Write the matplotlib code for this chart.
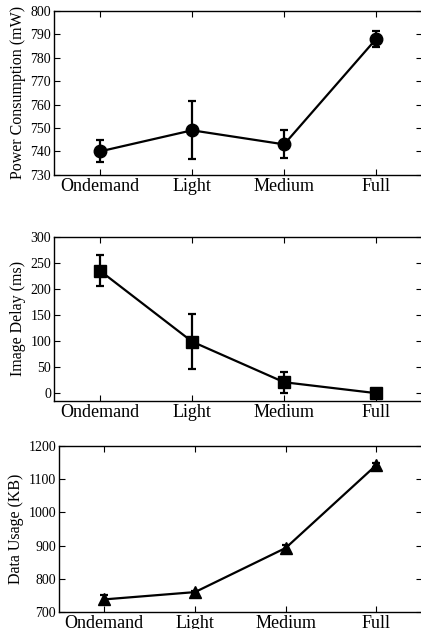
import matplotlib
matplotlib.use('Agg')
import matplotlib.pyplot as plt

modes = ['Ondemand', 'Light', 'Medium', 'Full']

power = [740, 749, 743, 788]
power_err = [4.7, 12.4, 6.0, 3.4]

delay = [235, 99, 21, 0]
delay_err = [30, 53, 20, 0]

data_usage = [738, 760, 893, 1143]
data_err = [14, 4, 10, 5]

plt.rcParams['font.family'] = ['Liberation Serif', 'DejaVu Serif']
plt.rcParams['mathtext.fontset'] = 'stix'

fig = plt.figure(figsize=(4.21, 6.29), dpi=100)

panels = [
    ([0.128, 0.722, 0.875, 0.261], power, power_err, 'o', 'Power Consumption (mW)', (730, 800), range(730, 801, 10)),
    ([0.128, 0.3625, 0.875, 0.261], delay, delay_err, 's', 'Image Delay (ms)', (-15, 300), range(0, 301, 50)),
    ([0.140, 0.027, 0.862, 0.264], data_usage, data_err, '^', 'Data Usage (KB)', (700, 1200), range(700, 1201, 100)),
]

x = list(range(len(modes)))
for rect, vals, errs, mk, label, ylim, yt in panels:
    ax = fig.add_axes(rect)
    ax.errorbar(x, vals, yerr=errs, color='black', marker=mk, markersize=9,
                linewidth=1.6, elinewidth=1.6, capsize=3, capthick=1.6)
    ax.set_xlim(-0.5, 3.5)
    ax.set_ylim(*ylim)
    ax.set_yticks(list(yt))
    ax.set_xticks(x)
    ax.set_xticklabels(modes, fontsize=13)
    ax.tick_params(axis='y', labelsize=10)
    ax.tick_params(direction='in', top=True, right=True, length=4, width=0.8)
    ax.tick_params(axis='x', pad=2)
    ax.tick_params(axis='y', pad=2)
    ax.set_ylabel(label, fontsize=11.5, labelpad=3)
    for s in ax.spines.values():
        s.set_linewidth(1.0)

fig.savefig('out.png', dpi=100)
